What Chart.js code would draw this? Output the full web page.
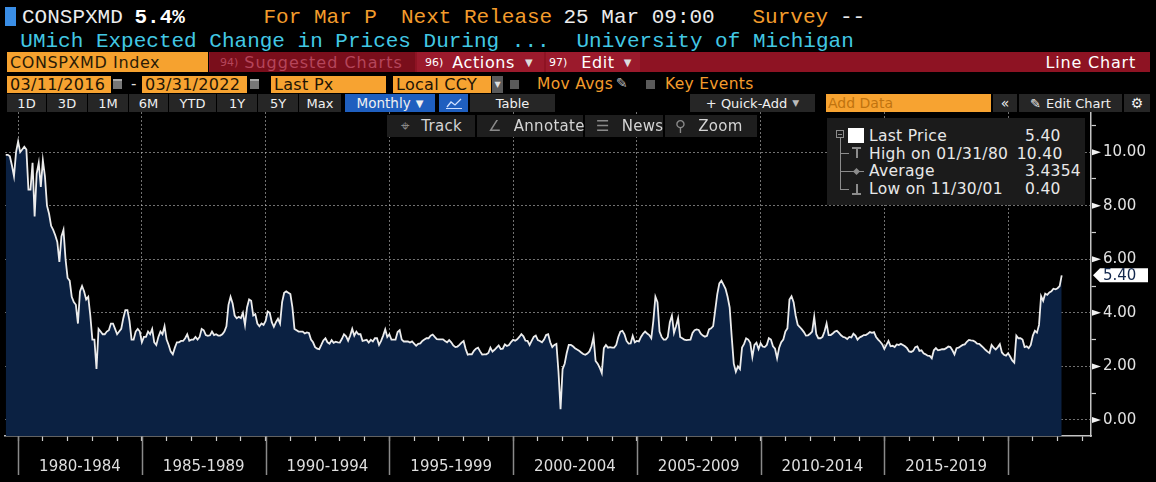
<!DOCTYPE html>
<html>
<head>
<meta charset="utf-8">
<script src="https://cdn.jsdelivr.net/npm/chart.js@4.4.1/dist/chart.umd.min.js"></script>
<style>
html, body { margin: 0; padding: 0; background: #000; }
body { width: 1156px; height: 482px; position: relative; overflow: hidden; font-family: 'DejaVu Sans', sans-serif; color: #e6e6e6; }
.a { position: absolute; white-space: nowrap; }
.mono { font-family: 'Liberation Mono', monospace; font-size: 21px; line-height: 21px; }
.org { color: #f39c2c; }
.cy { color: #42c8e4; }
.wh { color: #ececec; }
.box { position: absolute; display: flex; align-items: center; white-space: nowrap; box-sizing: border-box; }
.inp { background: #f7a331; color: #1e1405; font-size: 16px; letter-spacing: 0.3px; height: 17px; top: 76px; padding-left: 3px; }
.cal { position: absolute; top: 79px; width: 9px; height: 10px; background: #777; border-top: 2px solid #aaa; box-sizing: border-box; }
.chk { position: absolute; top: 80px; width: 9px; height: 9px; background: #5a5a5a; }
.btn { background: #262626; color: #f0f0f0; font-size: 13px; height: 18px; top: 94px; justify-content: center; }
.tool { background: #1e1e1e; color: #d4d4d4; font-size: 15px; height: 22px; top: 115px; letter-spacing: 0.3px; }
.tool i { font-style: normal; color: #8a8a8a; margin-right: 12px; }
.lg { font-size: 15.5px; line-height: 18px; letter-spacing: 0.3px; color: #e8e8e8; }
.tr { position: absolute; background: #8c8c8c; }
</style>
</head>
<body>
<canvas id="chart" width="1156" height="370" style="position:absolute;left:0;top:112px"></canvas>

<!-- header rows -->
<div class="a" style="left:5px;top:7px;width:11px;height:19px;background:#3a8ee6"></div>
<div class="a mono wh" style="left:22px;top:7px">CONSPXMD</div>
<div class="a mono" style="left:134.5px;top:7px;font-weight:bold;color:#fff">5.4%</div>
<div class="a mono org" style="left:263.5px;top:7px">For Mar P</div>
<div class="a mono org" style="left:401px;top:7px">Next Release</div>
<div class="a mono wh" style="left:563.5px;top:7px">25 Mar 09:00</div>
<div class="a mono org" style="left:752.5px;top:7px">Survey</div>
<div class="a mono wh" style="left:840px;top:7px">--</div>
<div class="a mono cy" style="left:20.3px;top:30.6px">UMich Expected Change in Prices During ...</div>
<div class="a mono cy" style="left:576.5px;top:30.6px">University of Michigan</div>

<div class="box" style="left:7px;top:52px;width:201px;height:20px;background:#f6a22f;color:#2a1b06;font-size:16px;letter-spacing:0.6px;padding-left:3px">CONSPXMD Index</div>
<div class="box" style="left:209px;top:52px;width:941px;height:20px;background:#8e1323"></div>
<div class="box" style="left:210px;top:52px;width:205px;height:20px;background:#7a0e1b;color:#b5455a;font-size:16px;letter-spacing:1px;padding-left:10px"><span style="font-size:11px;letter-spacing:0;margin-right:6px">94)</span>Suggested Charts</div>
<div class="box" style="left:417px;top:52px;width:127px;height:20px;background:#9b1a2c;color:#fff;font-size:16px;letter-spacing:0.6px;padding-left:8px"><span style="font-size:11px;letter-spacing:0;margin-right:9px">96)</span>Actions<span style="font-size:10px;margin-left:10px;color:#ddd">▼</span></div>
<div class="box" style="left:546px;top:52px;width:94px;height:20px;background:#9b1a2c;color:#fff;font-size:16px;letter-spacing:0.6px;padding-left:3px"><span style="font-size:11px;letter-spacing:0;margin-right:14px">97)</span>Edit<span style="font-size:10px;margin-left:9px;color:#ddd">▼</span></div>
<div class="box" style="left:900px;top:52px;width:250px;height:20px;color:#fff;font-size:16px;letter-spacing:0.8px;justify-content:flex-end;padding-right:14px">Line Chart</div>

<div class="box inp" style="left:7px;width:104px">03/11/2016</div>
<div class="cal" style="left:113px"></div>
<div class="a" style="left:131px;top:75px;font-size:15px;color:#ddd">-</div>
<div class="box inp" style="left:142px;width:105px">03/31/2022</div>
<div class="cal" style="left:250px"></div>
<div class="box inp" style="left:271px;width:115px">Last Px</div>
<div class="box inp" style="left:393px;width:98px">Local CCY</div>
<div class="box" style="left:492px;top:76px;width:11px;height:17px;background:#5a5a5a;color:#ddd;font-size:8px;justify-content:center">▼</div>
<div class="chk" style="left:510px"></div>
<div class="a org" style="left:537px;top:75px;font-size:15.5px;letter-spacing:0.3px">Mov Avgs</div>
<div class="a" style="left:616px;top:75px;font-size:14px;color:#bbb">✎</div>
<div class="chk" style="left:646px"></div>
<div class="a org" style="left:665px;top:75px;font-size:15.5px;letter-spacing:0.3px">Key Events</div>

<div class="box btn" style="left:7px;width:39px">1D</div>
<div class="box btn" style="left:47px;width:40px">3D</div>
<div class="box btn" style="left:88px;width:40px">1M</div>
<div class="box btn" style="left:129px;width:39px">6M</div>
<div class="box btn" style="left:169px;width:47px">YTD</div>
<div class="box btn" style="left:217px;width:40px">1Y</div>
<div class="box btn" style="left:258px;width:40px">5Y</div>
<div class="box btn" style="left:299px;width:42px">Max</div>
<div class="box btn" style="left:345px;width:90px;background:#1f5fbf;font-size:13.5px">Monthly <span style="font-size:10px;margin-left:5px">▼</span></div>
<div class="box btn" style="left:439px;width:29px;background:#1f5fbf">
  <svg width="16" height="12" viewBox="0 0 16 12"><polyline points="1,10 5,5 9,8 15,2" fill="none" stroke="#cfe0ff" stroke-width="1.3"/><line x1="0" y1="11.5" x2="16" y2="11.5" stroke="#cfe0ff" stroke-width="1"/></svg>
</div>
<div class="box btn" style="left:470px;width:85px">Table</div>
<div class="box btn" style="left:690px;width:125px">+ Quick-Add <span style="font-size:9px;margin-left:5px;color:#bbb">▼</span></div>
<div class="box btn" style="left:826px;width:165px;background:#f7a331;color:#c0730f;justify-content:flex-start;padding-left:2px;font-size:14px">Add Data</div>
<div class="box btn" style="left:993px;width:24px;font-size:14px">«</div>
<div class="box btn" style="left:1019px;width:103px"><span style="margin-right:5px">✎</span>Edit Chart</div>
<div class="box btn" style="left:1124px;width:26px;font-size:14px">⚙</div>

<!-- chart tool buttons -->
<div class="box tool" style="left:387px;width:88px;padding-left:14px"><i>⌖</i>Track</div>
<div class="box tool" style="left:477px;width:106px;padding-left:11px"><i>∠</i>Annotate</div>
<div class="box tool" style="left:585px;width:78px;padding-left:11px"><i>☰</i>News</div>
<div class="box tool" style="left:665px;width:92px;padding-left:10px"><i>⚲</i>Zoom</div>

<!-- legend box -->
<div class="a" style="left:827px;top:118px;width:258px;height:87px;background:#1b1b1b"></div>
<div class="a" style="left:836px;top:130px;width:8px;height:8px;border:1px solid #8c8c8c;box-sizing:border-box"></div>
<div class="tr" style="left:838px;top:133.5px;width:4px;height:1px"></div>
<div class="tr" style="left:840px;top:138px;width:1px;height:52px"></div>
<div class="tr" style="left:840px;top:153px;width:9px;height:1px"></div>
<div class="tr" style="left:840px;top:171px;width:9px;height:1px"></div>
<div class="tr" style="left:840px;top:189px;width:9px;height:1px"></div>
<div class="tr" style="left:852px;top:147px;width:9px;height:1.5px"></div>
<div class="tr" style="left:856px;top:147px;width:1.5px;height:11px"></div>
<div class="tr" style="left:849px;top:171px;width:15px;height:1px"></div>
<div class="tr" style="left:854px;top:168.5px;width:5px;height:5px;transform:rotate(45deg)"></div>
<div class="tr" style="left:856px;top:184px;width:1.5px;height:10px"></div>
<div class="tr" style="left:852px;top:193px;width:9px;height:1.5px"></div>
<div class="a" style="left:848px;top:128px;width:16px;height:15px;background:#fff"></div>
<div class="a lg" style="left:869px;top:127.3px">Last Price</div>
<div class="a lg" style="left:1025px;top:127.3px">5.40</div>
<div class="a lg" style="left:869px;top:145px">High on 01/31/80</div>
<div class="a lg" style="left:1016.7px;top:145px">10.40</div>
<div class="a lg" style="left:869px;top:162.3px">Average</div>
<div class="a lg" style="left:1025px;top:162.3px">3.4354</div>
<div class="a lg" style="left:869px;top:180px">Low on 11/30/01</div>
<div class="a lg" style="left:1025px;top:180px">0.40</div>

<script>
// UMich expected change in prices, next 12 months (monthly, %)
const firstMonth = { year: 1979, month: 7 };

const exp1979 = [9.9, 9.9, 9.85, 9.5, 9.1, 10.0];

const exp1980s = [
  10.4, 10.0, 10.1, 10.2, 10.1, 8.6, 8.6, 9.6, 7.6, 9.2, 9.6, 8.7,
  9.7, 9.1, 8.0, 7.7, 7.25, 7.1, 6.9, 6.65, 5.9, 6.85, 7.1, 6.0,
  5.3, 5.2, 4.6, 4.4, 4.3, 3.6, 4.8, 5.0, 4.8, 4.5, 4.6, 3.9,
  3.0, 3.0, 1.9, 3.4, 3.3, 3.2, 3.2, 3.3, 3.35, 3.6, 3.6, 3.4,
  3.2, 3.3, 3.4, 3.8, 4.1, 4.1, 3.7, 3.0, 3.0, 3.3, 3.4, 3.3,
  2.9, 3.1, 3.1, 3.3, 3.2, 3.4, 2.9, 2.8, 3.1, 3.3, 3.2, 3.5,
  3.0, 2.8, 2.55, 2.45, 2.7, 2.9, 2.9, 2.95, 2.95, 3.05, 3.2, 2.96,
  3.0, 3.0, 3.1, 3.0, 3.1, 3.4, 3.35, 3.17, 3.14, 3.16, 3.3, 3.17,
  3.2, 3.15, 3.15, 3.2, 3.3, 3.5, 4.3, 4.6, 4.35, 3.9, 3.8, 3.85,
  3.8, 4.0, 3.55, 4.2, 4.5, 4.45, 3.9, 3.95, 3.6, 3.5, 3.6, 3.55
];

const exp1990s = [
  3.7, 4.05, 4.0, 3.65, 3.48, 3.65, 3.78, 3.6, 4.4, 4.75, 4.8, 4.75,
  4.7, 4.2, 3.4, 3.35, 3.3, 3.3, 3.3, 3.23, 3.27, 3.25, 3.0, 2.9,
  2.72, 2.66, 2.64, 2.8, 2.97, 3.05, 2.9, 2.85, 2.98, 2.88, 2.92, 2.9,
  2.89, 3.03, 3.2, 3.12, 2.96, 3.15, 3.4, 3.15, 3.3, 3.2, 3.2, 2.95,
  2.97, 2.99, 2.89, 2.99, 2.93, 3.05, 3.05, 2.8, 2.95, 3.15, 3.38, 3.1,
  3.2, 3.0, 3.0, 3.0, 3.28, 3.35, 3.0, 2.93, 2.93, 2.93, 2.89, 2.93,
  2.85, 2.77, 2.84, 2.86, 2.95, 3.0, 3.05, 3.05, 3.15, 3.19, 3.1, 3.02,
  3.01, 3.01, 3.01, 2.95, 2.9, 2.98, 2.9, 2.78, 2.72, 2.74, 2.8, 2.89,
  2.95, 2.65, 2.44, 2.46, 2.45, 2.58, 2.66, 2.7, 2.56, 2.44, 2.45, 2.45,
  2.5, 2.7, 2.55, 2.62, 2.7, 2.78, 2.65, 2.66, 2.82, 2.76, 2.8, 2.91
];

const exp2000s = [
  2.99, 2.96, 3.01, 3.1, 3.2, 3.12, 2.96, 2.95, 2.8, 2.95, 3.1, 3.15,
  2.98, 2.95, 2.9, 3.0, 3.17, 3.2, 2.9, 2.72, 2.8, 2.84, 1.8, 0.4,
  1.9, 2.1, 2.5, 2.8, 2.8, 2.75, 2.68, 2.63, 2.58, 2.52, 2.46, 2.43,
  2.48, 2.56, 2.75, 3.1, 2.2, 2.1, 1.95, 1.75, 2.68, 2.8, 2.7, 2.72,
  2.7, 2.7, 2.8, 3.1, 3.3, 3.33, 3.2, 2.95, 2.85, 2.86, 3.14, 2.9,
  2.95, 2.93, 3.1, 3.22, 3.3, 3.23, 3.17, 3.05, 3.7, 4.6, 4.4, 3.3,
  3.1, 3.0, 3.0, 3.1, 3.65, 3.9, 3.25, 3.5, 3.8, 3.1, 3.05, 3.0,
  2.98, 2.99, 3.0, 3.25, 3.35, 3.38, 3.36, 3.22, 3.15, 3.11, 3.14, 3.38,
  3.42, 3.5, 4.1, 4.7, 5.1, 5.2, 5.05, 4.9, 4.6, 4.2, 3.1, 2.1,
  1.8, 2.0, 1.9, 2.7, 2.84, 3.05, 3.0, 2.88, 2.35, 2.8, 2.88, 2.65
];

const exp2010s = [
  2.86, 2.74, 2.72, 2.8, 3.05, 3.0, 2.75, 2.66, 2.3, 2.7, 2.9, 3.0,
  3.3, 3.42, 4.5, 4.62, 4.4, 3.9, 3.55, 3.47, 3.38, 3.28, 3.15, 3.16,
  3.22, 3.3, 3.85, 3.2, 3.05, 3.05, 3.1, 3.3, 3.6, 3.17, 3.17, 3.23,
  3.3, 3.33, 3.25, 3.16, 3.1, 3.08, 3.02, 3.1, 3.08, 3.22, 3.15, 3.0,
  3.08, 3.12, 3.17, 3.17, 3.22, 3.28, 3.25, 3.28, 3.1, 3.0, 2.92, 2.82,
  2.65, 2.8, 2.95, 2.75, 2.77, 2.72, 2.82, 2.8, 2.84, 2.8, 2.75, 2.68,
  2.56, 2.54, 2.58, 2.72, 2.75, 2.58, 2.6, 2.49, 2.45, 2.4, 2.39, 2.3,
  2.6, 2.68, 2.6, 2.62, 2.64, 2.64, 2.68, 2.74, 2.72, 2.6, 2.45, 2.68,
  2.7, 2.75, 2.8, 2.82, 2.92, 2.99, 2.97, 2.96, 2.92, 2.85, 2.84, 2.77,
  2.7, 2.62, 2.55, 2.5, 2.8, 2.7, 2.63, 2.72, 2.83, 2.52, 2.43, 2.4
];

const exp2020s = [
  2.49, 2.37, 2.22, 2.14, 3.15, 3.05, 3.05, 3.0, 2.72, 2.75, 2.68, 2.8,
  3.15, 3.33, 3.26, 3.55, 4.62, 4.45, 4.72, 4.67, 4.76, 4.8, 4.9, 4.88,
  4.92, 5.0, 5.4
];

const periodStarts = [1980, 1985, 1990, 1995, 2000, 2005, 2010, 2015];
const periodLabels = ['1980-1984', '1985-1989', '1990-1994', '1995-1999',
                      '2000-2004', '2005-2009', '2010-2014', '2015-2019'];
const yTicks = [0, 1, 2, 3, 4, 5, 6, 7, 8, 9, 10, 11];

const expectations = [].concat(exp1979, exp1980s, exp1990s, exp2000s, exp2010s, exp2020s);
const points = expectations.map((v, i) => ({
  x: firstMonth.year + (firstMonth.month - 1 + i) / 12,
  y: v
}));

const gridDots = 'rgba(205, 205, 205, 0.55)';
const tickGray = '#cfcfcf';
const labelFont = { family: 'DejaVu Sans', size: 15 };

// separators under the time axis, pointers on the price axis, last value tag
const axisMarks = {
  id: 'axisMarks',
  afterDraw(chart) {
    const { ctx, chartArea, scales: { x, y } } = chart;
    ctx.save();
    ctx.strokeStyle = '#8a8a8a';
    ctx.lineWidth = 1.5;
    periodStarts.concat([2020]).forEach(p => {
      const px = Math.round(x.getPixelForValue(p)) + 0.5;
      ctx.beginPath();
      ctx.moveTo(px, chartArea.bottom);
      ctx.lineTo(px, chartArea.bottom + 39);
      ctx.stroke();
    });

    ctx.fillStyle = '#f2f2f2';
    yTicks.filter(v => v % 2 === 0).forEach(v => {
      const py = y.getPixelForValue(v);
      ctx.beginPath();
      ctx.moveTo(chartArea.right + 1, py - 3);
      ctx.lineTo(chartArea.right + 10, py);
      ctx.lineTo(chartArea.right + 1, py + 3);
      ctx.closePath();
      ctx.fill();
    });

    const last = expectations[expectations.length - 1];
    const ly = y.getPixelForValue(last);
    const l = chartArea.right + 2;
    ctx.fillStyle = '#ffffff';
    ctx.beginPath();
    ctx.moveTo(l, ly);
    ctx.lineTo(l + 7, ly - 7);
    ctx.lineTo(l + 55, ly - 7);
    ctx.lineTo(l + 55, ly + 7);
    ctx.lineTo(l + 7, ly + 7);
    ctx.closePath();
    ctx.fill();
    ctx.fillStyle = '#13284d';
    ctx.font = '15px "DejaVu Sans"';
    ctx.textBaseline = 'middle';
    ctx.fillText(last.toFixed(2), l + 10, ly + 1);
    ctx.restore();
  }
};

new Chart(document.getElementById('chart'), {
  type: 'line',
  data: {
    datasets: [{
      data: points,
      borderColor: '#ececec',
      borderWidth: 1.8,
      backgroundColor: '#0b2142',
      fill: 'start',
      pointRadius: 0,
      tension: 0
    }]
  },
  options: {
    responsive: false,
    animation: false,
    events: [],
    layout: { padding: { left: 5, top: 0, right: 0, bottom: 0 } },
    plugins: { legend: { display: false }, tooltip: { enabled: false } },
    scales: {
      x: {
        type: 'linear',
        position: 'bottom',
        min: 1979.47,
        max: 2023.35,
        z: 1,
        afterBuildTicks: s => {
          const t = [];
          for (let yr = 1980; yr <= 2023; yr++) t.push({ value: yr });
          periodStarts.forEach(p => t.push({ value: p + 2.5 }));
          t.sort((a, b) => a.value - b.value);
          s.ticks = t;
        },
        afterFit: s => { s.height = 46; s.paddingLeft = 0; s.paddingRight = 0; },
        grid: {
          color: c => (c.tick && Number.isInteger(c.tick.value) && c.tick.value % 5 === 0) ? gridDots : 'transparent',
          tickColor: c => (c.tick && Number.isInteger(c.tick.value)) ? tickGray : 'transparent',
          lineWidth: 1,
          tickLength: 5,
          tickWidth: 1.2
        },
        border: { display: true, color: '#c4c4c4', width: 1.5, dash: [2, 2] },
        ticks: {
          autoSkip: false,
          maxRotation: 0,
          minRotation: 0,
          padding: 17,
          color: '#dedede',
          font: labelFont,
          callback: v => {
            const i = periodStarts.findIndex(p => Math.abs(p + 2.5 - v) < 0.01);
            return i >= 0 ? periodLabels[i] : '';
          }
        }
      },
      y: {
        position: 'right',
        min: -0.6,
        max: 11.5,
        z: 1,
        afterBuildTicks: s => { s.ticks = yTicks.map(v => ({ value: v })); },
        afterFit: s => { s.width = 65; s.paddingTop = 0; s.paddingBottom = 0; },
        grid: {
          color: c => (c.tick && c.tick.value % 2 === 0) ? gridDots : 'transparent',
          tickColor: c => (c.tick && c.tick.value % 2 === 1) ? tickGray : 'transparent',
          lineWidth: 1,
          tickLength: 5,
          tickWidth: 1.2
        },
        border: { display: true, color: '#c4c4c4', width: 1.5, dash: [2, 2] },
        ticks: {
          autoSkip: false,
          padding: 7,
          color: '#e2e2e2',
          font: labelFont,
          callback: v => (v % 2 === 0 ? v.toFixed(2) : '')
        }
      }
    }
  },
  plugins: [axisMarks]
});
</script>
</body>
</html>
